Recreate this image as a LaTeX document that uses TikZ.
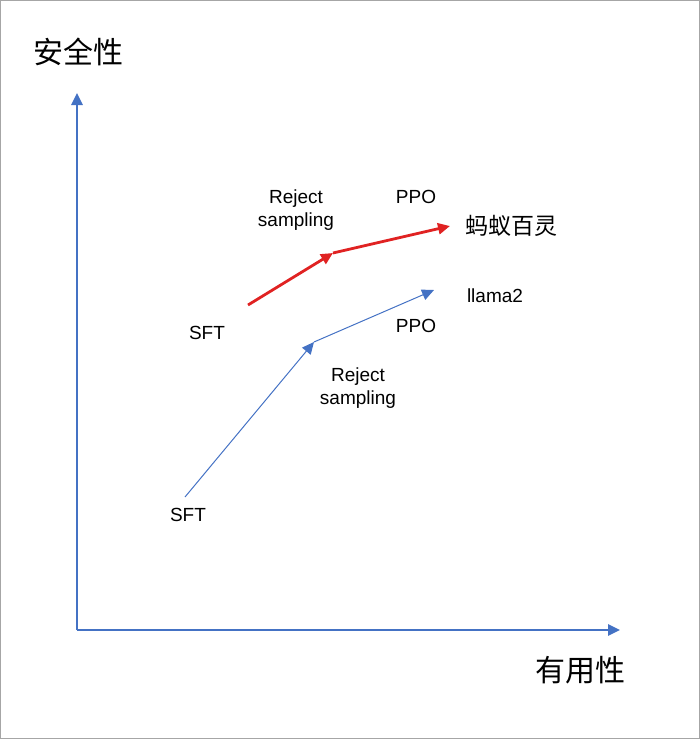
\documentclass[tikz,border=0pt]{standalone}
\usepackage{fontspec}
\setmainfont{Liberation Sans}
\newfontfamily\cjk{Noto Sans CJK SC}
\usetikzlibrary{arrows.meta}
\definecolor{axblue}{HTML}{4472C4}
\definecolor{myred}{HTML}{E02222}
\begin{document}
\begin{tikzpicture}[x=1pt,y=-1pt,
  lbl/.style={font=\fontsize{19}{23}\selectfont,align=center,inner sep=0},
  zh/.style={font=\cjk\fontsize{30}{34}\selectfont,inner sep=0},
  axis/.style={axblue,line width=2.5pt,-{Triangle[length=12pt,width=11pt]}},
  redarr/.style={myred,line width=2.8pt,-{Triangle[length=12pt,width=11pt]}},
  bluearr/.style={axblue,line width=1pt,-{Triangle[length=12pt,width=11pt]}}]
\useasboundingbox (0,0) rectangle (700,739);
\draw[gray!70,line width=1pt] (0.5,0.5) rectangle (699.5,738.5);
\coordinate (o) at (77,630);
\coordinate (ytop) at (77,93);
\coordinate (xend) at (620,630);
\draw[axis] (o) -- (ytop);
\draw[axis] (o) -- (xend);
\node[zh] (ylab) at (79,52) {安全性};
\node[zh] (xlab) at (580,670) {有用性};
\coordinate (r0) at (248,305);
\coordinate (r1) at (333,253);
\coordinate (r2) at (450,226);
\draw[redarr] (r0) -- (r1);
\draw[redarr] (r1) -- (r2);
\coordinate (b0) at (185,497);
\coordinate (b1) at (314,342);
\coordinate (b2) at (434,290);
\draw[bluearr] (b0) -- (b1);
\draw[bluearr] (b1) -- (b2);
\node[lbl] (rs1) at (296,210) {Reject\\sampling};
\node[lbl] (ppo1) at (416,197) {PPO};
\node[zh,font=\cjk\fontsize{23}{26}\selectfont] (bl) at (511,226) {蚂蚁百灵};
\node[lbl] (ll) at (495,296) {llama2};
\node[lbl] (sft1) at (207,333) {SFT};
\node[lbl] (ppo2) at (416,326) {PPO};
\node[lbl] (rs2) at (358,388) {Reject\\sampling};
\node[lbl] (sft2) at (188,515) {SFT};
\end{tikzpicture}
\end{document}
